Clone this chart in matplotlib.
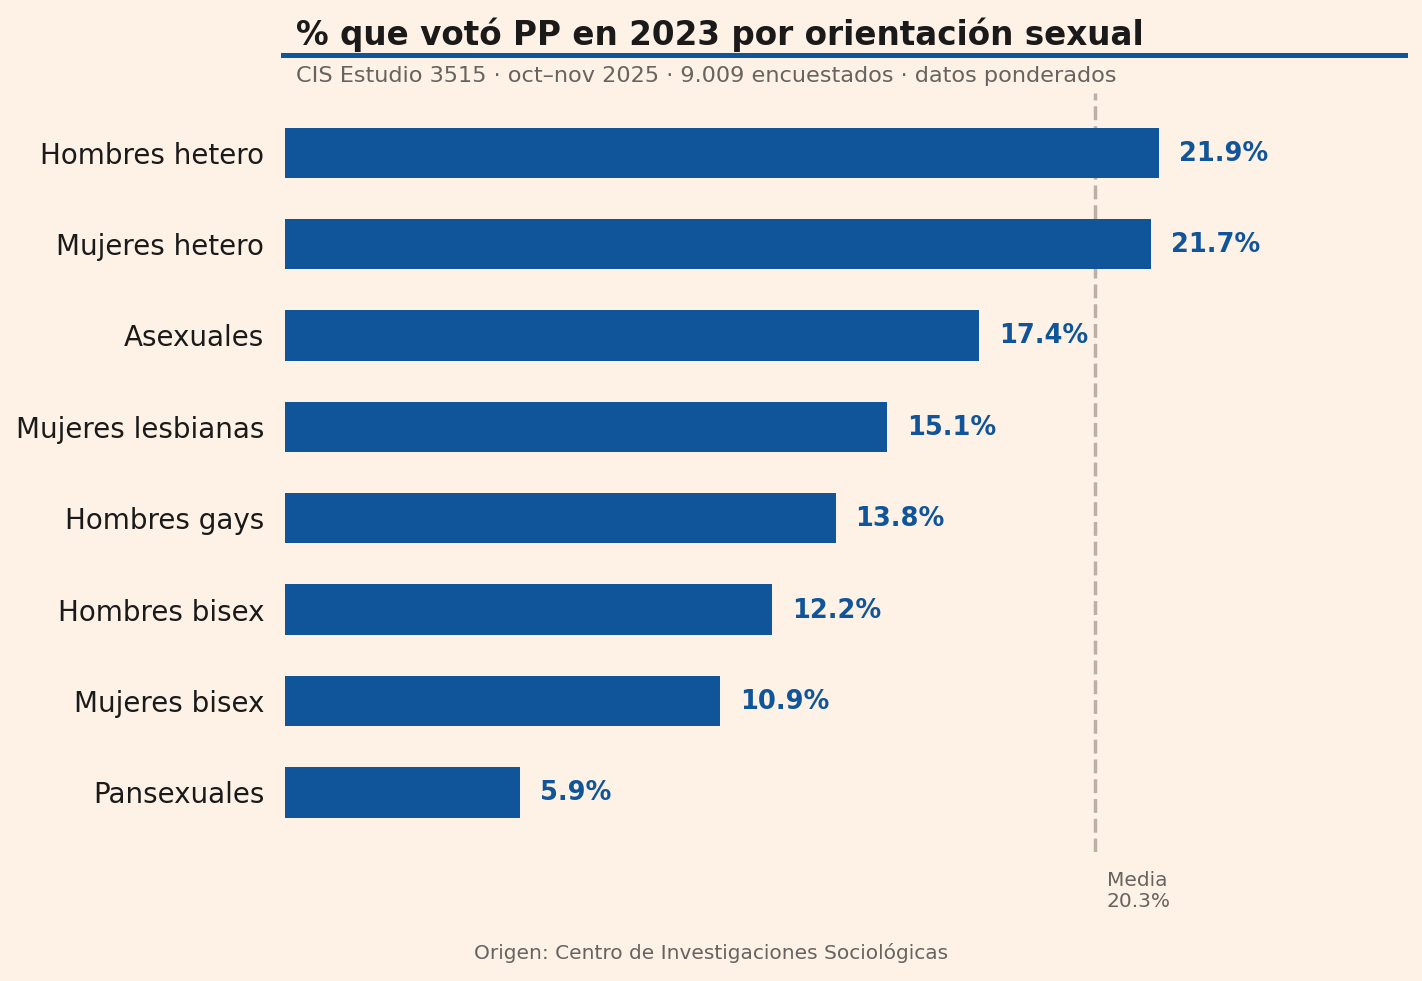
import matplotlib
matplotlib.use("Agg")
import matplotlib.pyplot as plt

categories = ["Hombres hetero", "Mujeres hetero", "Asexuales", "Mujeres lesbianas",
              "Hombres gays", "Hombres bisex", "Mujeres bisex", "Pansexuales"]
values = [21.9, 21.7, 17.4, 15.1, 13.8, 12.2, 10.9, 5.9]
mean_value = 20.3

BG = "#fef1e6"
BLUE = "#10559a"
GREY = "#666360"

fig = plt.figure(figsize=(14.22, 9.81), dpi=100, facecolor=BG)
ax = fig.add_axes([285 / 1422, 1 - 852 / 981, (1405 - 285) / 1422, (852 - 93) / 981])
ax.set_facecolor(BG)

ypos = list(range(len(categories)))
ax.barh(ypos, values, height=0.55, color=BLUE)
ax.invert_yaxis()
ax.set_xlim(0, 28.07)

# linea de la media
ax.axvline(mean_value, color="#bab0a6", lw=2.5, ls=(0, (4, 1.7)), zorder=0)

for y, v in zip(ypos, values):
    ax.text(v + 0.5, y + 0.01, f"{v}%", va="center", ha="left", color=BLUE,
            fontsize=18.5, fontweight="bold")

ax.set_yticks(ypos)
ax.set_yticklabels(categories, fontsize=20, color="#1a1a1a")
ax.tick_params(axis="y", length=0, pad=15)
ax.set_xticks([])
for s in ax.spines.values():
    s.set_visible(False)

fig.text(296 / 1422, 1 - 45 / 981, "% que votó PP en 2023 por orientación sexual",
         fontsize=23.5, fontweight="bold", color="#1a1a1a", va="baseline")
fig.add_artist(plt.Line2D([283 / 1422, 1405 / 1422], [1 - 54.5 / 981, 1 - 54.5 / 981],
                          color=BLUE, lw=3.6, transform=fig.transFigure))
fig.text(296 / 1422, 1 - 82 / 981,
         "CIS Estudio 3515 · oct–nov 2025 · 9.009 encuestados · datos ponderados",
         fontsize=16.1, color=GREY, va="baseline")

fig.text(1107 / 1422, 1 - 891 / 981, f"Media\n{mean_value}%", fontsize=14.5,
         color=GREY, va="center", ha="left", linespacing=1.1)
fig.text(0.5, 1 - 953 / 981, "Origen: Centro de Investigaciones Sociológicas",
         fontsize=14.5, color=GREY, ha="center", va="center")

fig.savefig("out.png", dpi=100, facecolor=BG)
